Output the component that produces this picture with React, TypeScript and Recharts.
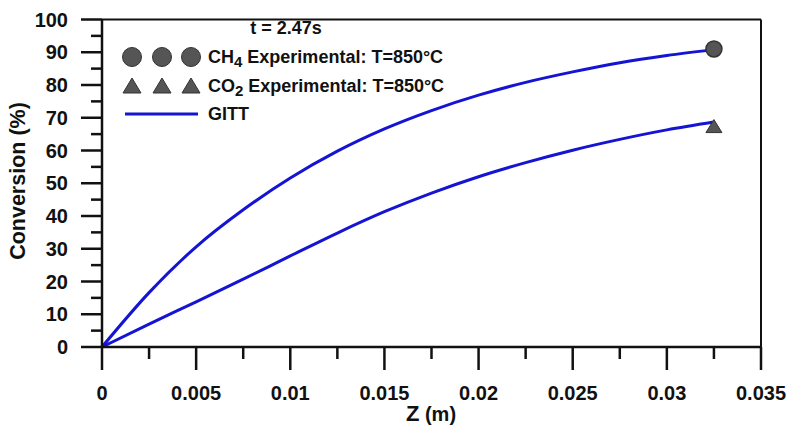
import { ComposedChart, Line, Scatter, XAxis, YAxis, ReferenceLine } from 'recharts'

const FONT = '"Liberation Sans", Arial, Helvetica, sans-serif'
const BLUE = '#1414d2'
const INK = '#111'

// GITT model curves
const zValues = [0, 0.0025, 0.005, 0.0075, 0.01, 0.0125, 0.015, 0.0175, 0.02, 0.0225, 0.025, 0.0275, 0.03, 0.0325]
const ch4Gitt = [0, 16.6, 30.6, 41.9, 51.6, 59.8, 66.6, 72.2, 76.9, 80.8, 84.0, 86.8, 89.0, 90.8]
const co2Gitt = [0, 7.0, 13.8, 20.7, 27.8, 34.8, 41.3, 47.0, 52.0, 56.3, 60.1, 63.4, 66.3, 68.7]

// experimental points (outlet)
const expZ = [0.0325]
const ch4Exp = [91.0]
const co2Exp = [67.3]

const xMajorTicks = [0, 0.005, 0.01, 0.015, 0.02, 0.025, 0.03, 0.035]
const xTickLabels = ['0', '0.005', '0.01', '0.015', '0.02', '0.025', '0.03', '0.035']
const xMinorTicks = [0.0025, 0.0075, 0.0125, 0.0175, 0.0225, 0.0275, 0.0325]
const yMajorTicks = [0, 10, 20, 30, 40, 50, 60, 70, 80, 90, 100]
const yMinorTicks = [5, 15, 25, 35, 45, 55, 65, 75, 85, 95]

const curveData = zValues.map((z, i) => ({ z, ch4: ch4Gitt[i], co2: co2Gitt[i] }))
const ch4Points = expZ.map((z, i) => ({ z, v: ch4Exp[i] }))
const co2Points = expZ.map((z, i) => ({ z, v: co2Exp[i] }))

const xTicks = [...xMajorTicks, ...xMinorTicks].sort((a, b) => a - b)
const yTicks = [...yMajorTicks, ...yMinorTicks].sort((a, b) => a - b)

function XTick({ x, y, payload }: any) {
  const k = xMajorTicks.indexOf(payload.value)
  const major = k >= 0
  return (
    <g>
      <line x1={x} y1={y} x2={x} y2={y + (major ? 23 : 12)} stroke={INK} strokeWidth={2.5} />
      {major && (
        <text x={x} y={y + 53} textAnchor="middle" fontFamily={FONT} fontWeight="bold" fontSize={20} fill={INK}>
          {xTickLabels[k]}
        </text>
      )}
    </g>
  )
}

function YTick({ x, y, payload }: any) {
  const major = yMajorTicks.includes(payload.value)
  return (
    <g>
      <line x1={x - (major ? 21 : 11)} y1={y} x2={x} y2={y} stroke={INK} strokeWidth={2.5} />
      {major && (
        <text x={x - 34} y={y + 7} textAnchor="end" fontFamily={FONT} fontWeight="bold" fontSize={20} fill={INK}>
          {payload.value}
        </text>
      )}
    </g>
  )
}

const circleShape = (p: any) => <circle cx={p.cx} cy={p.cy} r={8} fill="#555" stroke="#333" strokeWidth={1.5} />
const triangleShape = (p: any) => (
  <path d={`M${p.cx},${p.cy - 7} L${p.cx + 8},${p.cy + 6} L${p.cx - 8},${p.cy + 6} Z`} fill="#555" stroke="#333" strokeWidth={1} />
)

function LegendOverlay() {
  const xs = [132, 162, 191]
  const txt = { fontFamily: FONT, fontWeight: 'bold' as const, fontSize: 18, fill: INK }
  return (
    <svg width={789} height={426} style={{ position: 'absolute', left: 0, top: 0, pointerEvents: 'none' }}>
      <text x={286} y={34} textAnchor="middle" {...txt}>t = 2.47s</text>
      {xs.map(cx => <circle key={cx} cx={cx} cy={57} r={9.5} fill="#555" stroke="#333" strokeWidth={1} />)}
      <text x={208} y={63} {...txt}>
        CH<tspan fontSize={15} dy={4}>4</tspan><tspan dy={-4}> Experimental: T=850°C</tspan>
      </text>
      {xs.map(cx => <path key={cx} d={`M${cx},${78} L${cx + 9},${93} L${cx - 9},${93} Z`} fill="#555" stroke="#333" strokeWidth={1} />)}
      <text x={208} y={92} {...txt}>
        CO<tspan fontSize={15} dy={4}>2</tspan><tspan dy={-4}> Experimental: T=850°C</tspan>
      </text>
      <line x1={125} y1={114} x2={198} y2={114} stroke={BLUE} strokeWidth={3} />
      <text x={208} y={120} {...txt}>GITT</text>
    </svg>
  )
}

export default function App() {
  return (
    <div style={{ position: 'relative', width: 789, height: 426, background: '#fff' }}>
      <style>{'body{margin:0}'}</style>
      <ComposedChart width={789} height={426} data={curveData} margin={{ top: 19.5, right: 28, bottom: 0, left: 2 }}>
        <XAxis
          dataKey="z"
          type="number"
          domain={[0, 0.035]}
          ticks={xTicks}
          interval={0}
          height={79}
          tickSize={0}
          tickMargin={0}
          tickLine={false}
          tick={<XTick />}
          axisLine={{ stroke: INK, strokeWidth: 2.5 }}
          label={{
            content: () => (
              <text x={431} y={421} textAnchor="middle" fontFamily={FONT} fontWeight="bold" fill={INK}>
                <tspan fontSize={22}>Z</tspan><tspan fontSize={20}> (m)</tspan>
              </text>
            ),
          }}
        />
        <YAxis
          type="number"
          domain={[0, 100]}
          ticks={yTicks}
          interval={0}
          width={100}
          tickSize={0}
          tickMargin={0}
          tickLine={false}
          tick={<YTick />}
          axisLine={{ stroke: INK, strokeWidth: 2.5 }}
          label={{
            content: () => (
              <text
                x={25}
                y={181}
                transform="rotate(-90 25 181)"
                textAnchor="middle"
                fontFamily={FONT}
                fontWeight="bold"
                fontSize={21.5}
                fill={INK}
              >
                Conversion (%)
              </text>
            ),
          }}
        />
        <ReferenceLine x={0.035} stroke={INK} strokeWidth={2} />
        <ReferenceLine y={100} stroke={INK} strokeWidth={2} />
        <Scatter data={ch4Points} dataKey="v" shape={circleShape} isAnimationActive={false} />
        <Scatter data={co2Points} dataKey="v" shape={triangleShape} isAnimationActive={false} />
        <Line type="monotone" dataKey="ch4" stroke={BLUE} strokeWidth={3} dot={false} isAnimationActive={false} />
        <Line type="monotone" dataKey="co2" stroke={BLUE} strokeWidth={3} dot={false} isAnimationActive={false} />
      </ComposedChart>
      <LegendOverlay />
    </div>
  )
}
